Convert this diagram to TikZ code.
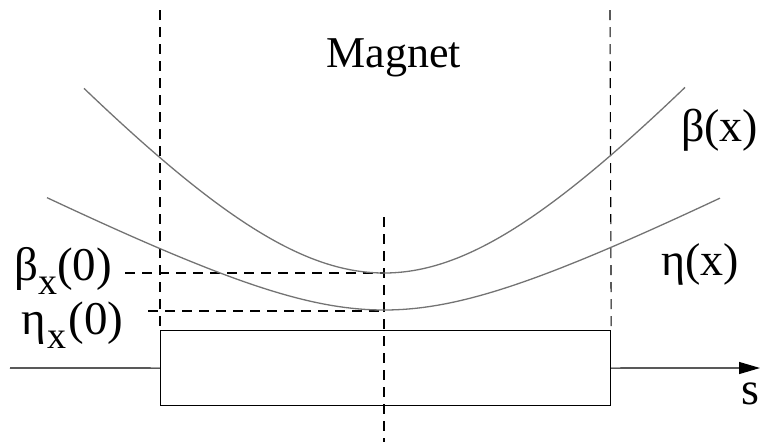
\documentclass[tikz,border=0pt]{standalone}
\usepackage{fontspec}
\setmainfont{Liberation Serif}
\usetikzlibrary{arrows.meta}
\tikzset{
  lbl/.style={inner sep=0pt, font=\fontsize{46}{46}\selectfont},
  maglbl/.style={inner sep=0pt, font=\fontsize{44}{44}\selectfont},
  sublbl/.style={inner sep=0pt, font=\fontsize{47}{47}\selectfont},
  guide/.style={line width=1.1pt, dash pattern=on 10pt off 7pt},
  curve/.style={line width=1.3pt, draw=black!55},
  solid line/.style={line width=1.2pt}
}
\newcommand{\lowsub}[1]{\raisebox{-0.3em}{\fontsize{38}{38}\selectfont #1}}
\begin{document}
\begin{tikzpicture}[x=1pt,y=-1pt]
\useasboundingbox (0,0) rectangle (761,445);
% coordinates
\coordinate (lt) at (160,10);
\coordinate (rt) at (610,10);
\coordinate (ct) at (384,217);
\coordinate (cb) at (384,442);
\coordinate (bmin) at (384,273);
\coordinate (emin) at (384,311);
\coordinate (bdash) at (125,273);
\coordinate (edash) at (148,311);
\coordinate (axl) at (10,368);
\coordinate (axr) at (760,368);
% box
\node[draw, solid line, minimum width=450pt, minimum height=75pt, inner sep=0pt, anchor=north west] (box) at (160,330) {};
% axis
\draw[solid line] (axl) -- (box.west);
\draw[solid line, -{Triangle[length=21pt,width=12pt]}] (box.east) -- (axr);
% guides
\draw[guide] (lt) -- (box.north west);
\draw[guide] (rt) -- (box.north east);
\draw[guide] (ct) -- (cb);
\draw[guide] (bdash) -- (bmin);
\draw[guide] (edash) -- (emin);
% curves
\draw[curve] plot[domain=84:685, samples=120, smooth] (\x, {273-230*(sqrt(1+((\x-384)/200)^2)-1)});
\draw[curve] plot[domain=47:720, samples=120, smooth] (\x, {310-77*(sqrt(1+((\x-384)/150)^2)-1)});
% labels
\node[maglbl, anchor=base] (mag) at (394,67) {Magnet};
\node[lbl, anchor=base west] (bx) at (681,141) {β(x)};
\node[lbl, anchor=base west] (ex) at (661,275) {η(x)};
\node[lbl, anchor=base west] (s) at (741,404) {s};
\node[sublbl, anchor=base west] (b0) at (14,280) {β\lowsub{x}(0)};
\node[sublbl, anchor=base west] (e0) at (21,334) {η\kern2pt\lowsub{x}\kern2pt(0)};
\end{tikzpicture}
\end{document}
